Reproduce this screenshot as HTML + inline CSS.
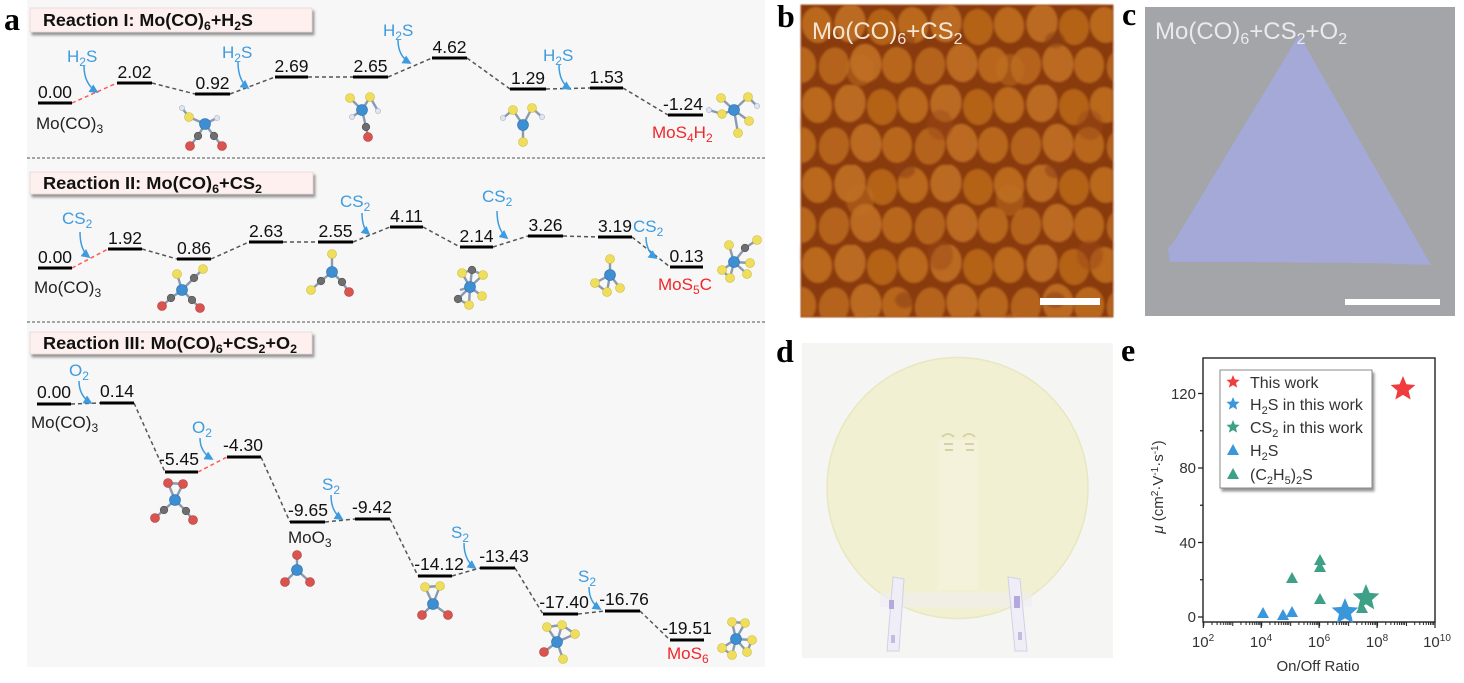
<!DOCTYPE html>
<html><head><meta charset="utf-8">
<style>
html,body{margin:0;padding:0;background:#fff;}
svg{display:block;}
text{font-family:"Liberation Sans",Arial,sans-serif;}
.lv{font-size:17.5px;fill:#111;text-anchor:middle;}
.bl{font-size:17px;fill:#3d9be0;}
.bk{font-size:17px;fill:#222;}
.rd{font-size:17px;fill:#f0262a;}
.bar{stroke:#000;stroke-width:3;}
.cn{stroke:#555;stroke-width:1.5;stroke-dasharray:4,3;fill:none;}
.cr{stroke:#ff5a5a;stroke-width:1.5;stroke-dasharray:4,3;fill:none;}
.ar{stroke:#3d9be0;stroke-width:1.5;fill:none;}
.mo{fill:#3d8fd1;stroke:#2a70b0;stroke-width:.6;}
.s{fill:#efdd5c;stroke:#cdb93c;stroke-width:.6;}
.o{fill:#d9534f;stroke:#b03a36;stroke-width:.6;}
.c{fill:#6e6e6e;stroke:#505050;stroke-width:.6;}
.h{fill:#e2e6f2;stroke:#a8b0c4;stroke-width:.6;}
.bd{stroke:#8a9ab0;stroke-width:2.4;}
.lbl{font-family:"Liberation Serif",serif;font-weight:bold;font-size:32px;fill:#000;}
.tk{font-size:15px;fill:#333;}
.lg{font-size:16px;fill:#333;}
</style></head><body>
<svg width="1464" height="683" viewBox="0 0 1464 683" xmlns="http://www.w3.org/2000/svg">
<defs>
 <marker id="ah" viewBox="0 0 10 10" refX="8" refY="5" markerUnits="userSpaceOnUse" markerWidth="9" markerHeight="9" orient="auto"><path d="M0,0 L10,5 L0,10 z" fill="#3d9be0"/></marker>
 <filter id="sh" x="-5%" y="-30%" width="115%" height="180%"><feDropShadow dx="2" dy="3" stdDeviation="1.3" flood-color="#8c8c8c" flood-opacity="0.9"/></filter>
 <path id="star" d="M0,-1 L0.2645,-0.3641 L0.9511,-0.309 L0.428,0.1391 L0.5878,0.809 L0,0.45 L-0.5878,0.809 L-0.428,0.1391 L-0.9511,-0.309 L-0.2645,-0.3641Z"/>
 <pattern id="grains" patternUnits="userSpaceOnUse" x="801" y="5" width="96" height="80">
  <rect width="96" height="80" fill="#8a3b0d"/>
  <ellipse cx="16" cy="20" rx="15" ry="18" transform="rotate(-10 16 20)" fill="#b9671f"/>
  <ellipse cx="49" cy="18" rx="15.5" ry="19" transform="rotate(6 49 18)" fill="#bb6a22"/>
  <ellipse cx="81" cy="22" rx="15" ry="18" transform="rotate(-5 81 22)" fill="#b46219"/>
  <ellipse cx="0" cy="60" rx="15" ry="18" fill="#b8661e"/>
  <ellipse cx="96" cy="60" rx="15" ry="18" fill="#b8661e"/>
  <ellipse cx="33" cy="61" rx="15" ry="18.5" transform="rotate(10 33 61)" fill="#b5641c"/>
  <ellipse cx="65" cy="58" rx="15.5" ry="19" transform="rotate(-8 65 58)" fill="#bc6b23"/>
 </pattern>
 <pattern id="grains2" patternUnits="userSpaceOnUse" x="830" y="30" width="150" height="130">
  <ellipse cx="30" cy="40" rx="14" ry="16" fill="#c07026" opacity="0.5"/>
  <ellipse cx="110" cy="95" rx="13" ry="15" fill="#9a4712" opacity="0.45"/>
  <ellipse cx="75" cy="10" rx="10" ry="8" fill="#8a3b0d" opacity="0.5"/>
 </pattern>
 <filter id="bl1"><feGaussianBlur stdDeviation="1.1"/></filter>
 <pattern id="xt" patternUnits="userSpaceOnUse" x="1203.3" y="622" width="28.96" height="6">
  <path d="M8.7,0v3M13.8,0v3M17.4,0v3M20.2,0v3M22.5,0v3M24.4,0v3M26.1,0v3M27.6,0v3M0.5,0v4" stroke="#222" stroke-width="1"/>
 </pattern>
</defs>

<!-- ================= PANEL A ================= -->
<rect x="27" y="0" width="738" height="667" fill="#f7f7f7"/>
<text x="4" y="30" class="lbl">a</text>
<line x1="27" y1="158" x2="765" y2="158" stroke="#8a8a8a" stroke-width="1.5" stroke-dasharray="3,2"/>
<line x1="27" y1="322" x2="765" y2="322" stroke="#8a8a8a" stroke-width="1.5" stroke-dasharray="3,2"/>

<rect x="30" y="8" width="282" height="24" fill="#fdf0ee" stroke="#e6d6d4" stroke-width="0.8" filter="url(#sh)"/>
<text x="43" y="26" font-weight="bold" font-size="17.5" fill="#111" textLength="210" lengthAdjust="spacingAndGlyphs">Reaction I: Mo(CO)<tspan dy="4" font-size="12">6</tspan><tspan dy="-4">+H</tspan><tspan dy="4" font-size="12">2</tspan><tspan dy="-4">S</tspan></text>
<rect x="30" y="172" width="283" height="22" fill="#fdf0ee" stroke="#e6d6d4" stroke-width="0.8" filter="url(#sh)"/>
<text x="43" y="189" font-weight="bold" font-size="17.5" fill="#111" textLength="219" lengthAdjust="spacingAndGlyphs">Reaction II: Mo(CO)<tspan dy="4" font-size="12">6</tspan><tspan dy="-4">+CS</tspan><tspan dy="4" font-size="12">2</tspan></text>
<rect x="30" y="332" width="282" height="22" fill="#fdf0ee" stroke="#e6d6d4" stroke-width="0.8" filter="url(#sh)"/>
<text x="43" y="349" font-weight="bold" font-size="17.5" fill="#111" textLength="254" lengthAdjust="spacingAndGlyphs">Reaction III: Mo(CO)<tspan dy="4" font-size="12">6</tspan><tspan dy="-4">+CS</tspan><tspan dy="4" font-size="12">2</tspan><tspan dy="-4">+O</tspan><tspan dy="4" font-size="12">2</tspan></text>

<!-- Reaction I -->
<g>
<line class="cr" x1="72" y1="103" x2="117" y2="83"/>
<polyline class="cn" points="152,83 195,94"/>
<polyline class="cn" points="230,94 275,77"/>
<polyline class="cn" points="308,77 353,77"/>
<polyline class="cn" points="388,77 432,58"/>
<polyline class="cn" points="467,58 510,89"/>
<polyline class="cn" points="546,89 590,88"/>
<polyline class="cn" points="623,88 668,115"/>
<line class="bar" x1="38" y1="103" x2="72" y2="103"/>
<line class="bar" x1="117" y1="83" x2="152" y2="83"/>
<line class="bar" x1="195" y1="94" x2="230" y2="94"/>
<line class="bar" x1="275" y1="77" x2="308" y2="77"/>
<line class="bar" x1="353" y1="77" x2="388" y2="77"/>
<line class="bar" x1="432" y1="58" x2="467" y2="58"/>
<line class="bar" x1="510" y1="89" x2="546" y2="89"/>
<line class="bar" x1="590" y1="88" x2="623" y2="88"/>
<line class="bar" x1="668" y1="115" x2="703" y2="115"/>
<text class="lv" x="55" y="98">0.00</text>
<text class="lv" x="134.5" y="78">2.02</text>
<text class="lv" x="212.5" y="89">0.92</text>
<text class="lv" x="291.5" y="72">2.69</text>
<text class="lv" x="370.5" y="72">2.65</text>
<text class="lv" x="449.5" y="53">4.62</text>
<text class="lv" x="528" y="84">1.29</text>
<text class="lv" x="606.5" y="83">1.53</text>
<text class="lv" x="683" y="110">-1.24</text>
<text class="bk" x="36" y="129">Mo(CO)<tspan dy="4" font-size="12">3</tspan></text>
<text class="rd" x="652" y="138">MoS<tspan dy="4" font-size="12">4</tspan><tspan dy="-4">H</tspan><tspan dy="4" font-size="12">2</tspan></text>
<text class="bl" x="67" y="62">H<tspan dy="4" font-size="12">2</tspan><tspan dy="-4">S</tspan></text>
<text class="bl" x="222" y="58">H<tspan dy="4" font-size="12">2</tspan><tspan dy="-4">S</tspan></text>
<text class="bl" x="383" y="36">H<tspan dy="4" font-size="12">2</tspan><tspan dy="-4">S</tspan></text>
<text class="bl" x="543" y="61">H<tspan dy="4" font-size="12">2</tspan><tspan dy="-4">S</tspan></text>
<path class="ar" d="M84,66 Q84,84 97,92" marker-end="url(#ah)"/>
<path class="ar" d="M238,62 Q238,80 248,88" marker-end="url(#ah)"/>
<path class="ar" d="M398,40 Q398,56 410,63" marker-end="url(#ah)"/>
<path class="ar" d="M559,65 Q559,82 570,89" marker-end="url(#ah)"/>
</g>

<g>
<path class="bd" d="M205,124L189,117M189,117L182,108M205,124L217,118M205,124L198,136M198,136L190,146M205,124L214,136M214,136L222,146"/>
<circle class="h" cx="182" cy="108" r="2.6"/><circle class="h" cx="217" cy="118" r="2.6"/>
<circle class="s" cx="189" cy="117" r="4.5"/><circle class="c" cx="198" cy="136" r="3.8"/><circle class="c" cx="214" cy="136" r="3.8"/>
<circle class="o" cx="190" cy="146" r="4.5"/><circle class="o" cx="222" cy="146" r="4.5"/>
<circle class="mo" cx="205" cy="124" r="5.5"/>

<path class="bd" d="M362,110L350,98M362,110L370,97M370,97L378,111M362,110L352,117M362,110L366,127M366,127L368,137"/>
<circle class="h" cx="378" cy="111" r="2.6"/><circle class="h" cx="352" cy="117" r="2.6"/>
<circle class="s" cx="350" cy="98" r="4.5"/><circle class="s" cx="370" cy="97" r="4.5"/>
<circle class="c" cx="366" cy="127" r="3.8"/><circle class="o" cx="368" cy="137" r="4.5"/>
<circle class="mo" cx="362" cy="110" r="5.5"/>

<path class="bd" d="M513,110L503,118M532,108L542,117M523,125L513,110M523,125L532,108M523,125L523,142"/>
<circle class="h" cx="503" cy="118" r="2.6"/><circle class="h" cx="542" cy="117" r="2.6"/>
<circle class="s" cx="513" cy="110" r="4.5"/><circle class="s" cx="532" cy="108" r="4.5"/><circle class="s" cx="523" cy="142" r="4.5"/>
<circle class="mo" cx="523" cy="125" r="5.5"/>

<path class="bd" d="M734,110L721,98M734,110L748,97M748,97L757,106M734,110L722,114M722,114L709,110M734,110L749,121M734,110L738,133"/>
<circle class="h" cx="709" cy="110" r="2.6"/><circle class="h" cx="757" cy="106" r="2.6"/>
<circle class="s" cx="721" cy="98" r="4.5"/><circle class="s" cx="748" cy="97" r="4.5"/><circle class="s" cx="722" cy="114" r="4.3"/><circle class="s" cx="749" cy="121" r="4.5"/><circle class="s" cx="738" cy="133" r="4.5"/>
<circle class="mo" cx="734" cy="110" r="5.5"/>
</g>

<!-- Reaction II -->
<g>
<line class="cr" x1="72" y1="268" x2="108" y2="249"/>
<polyline class="cn" points="142,249 177,259"/>
<polyline class="cn" points="211,259 249,242"/>
<polyline class="cn" points="283,242 318,242"/>
<polyline class="cn" points="353,242 390,227"/>
<polyline class="cn" points="423,227 460,247"/>
<polyline class="cn" points="493,247 528,236"/>
<polyline class="cn" points="563,236 598,237"/>
<polyline class="cn" points="632,237 670,267"/>
<line class="bar" x1="38" y1="268" x2="72" y2="268"/>
<line class="bar" x1="108" y1="249" x2="142" y2="249"/>
<line class="bar" x1="177" y1="259" x2="211" y2="259"/>
<line class="bar" x1="249" y1="242" x2="283" y2="242"/>
<line class="bar" x1="318" y1="242" x2="353" y2="242"/>
<line class="bar" x1="390" y1="227" x2="423" y2="227"/>
<line class="bar" x1="460" y1="247" x2="493" y2="247"/>
<line class="bar" x1="528" y1="236" x2="563" y2="236"/>
<line class="bar" x1="598" y1="237" x2="632" y2="237"/>
<line class="bar" x1="670" y1="267" x2="703" y2="267"/>
<text class="lv" x="55" y="263">0.00</text>
<text class="lv" x="125" y="244">1.92</text>
<text class="lv" x="194" y="254">0.86</text>
<text class="lv" x="266" y="237">2.63</text>
<text class="lv" x="335.5" y="237">2.55</text>
<text class="lv" x="406.5" y="222">4.11</text>
<text class="lv" x="476.5" y="242">2.14</text>
<text class="lv" x="545.5" y="231">3.26</text>
<text class="lv" x="615" y="232">3.19</text>
<text class="lv" x="686.5" y="262">0.13</text>
<text class="bk" x="34" y="293">Mo(CO)<tspan dy="4" font-size="12">3</tspan></text>
<text class="rd" x="658" y="290">MoS<tspan dy="4" font-size="12">5</tspan><tspan dy="-4">C</tspan></text>
<text class="bl" x="62" y="224">CS<tspan dy="4" font-size="12">2</tspan></text>
<text class="bl" x="340" y="207">CS<tspan dy="4" font-size="12">2</tspan></text>
<text class="bl" x="482" y="202">CS<tspan dy="4" font-size="12">2</tspan></text>
<text class="bl" x="633" y="232">CS<tspan dy="4" font-size="12">2</tspan></text>
<path class="ar" d="M80,232 Q80,250 89,257" marker-end="url(#ah)"/>
<path class="ar" d="M362,213 Q362,228 369,234" marker-end="url(#ah)"/>
<path class="ar" d="M497,211 Q497,230 507,238" marker-end="url(#ah)"/>
<path class="ar" d="M646,237 Q646,251 656,258" marker-end="url(#ah)"/>
</g>

<g>
<path class="bd" d="M182,290L177,274M182,290L194,278M194,278L203,269M182,290L171,298M171,298L162,306M182,290L192,300M192,300L200,308"/>
<circle class="s" cx="177" cy="274" r="4.5"/><circle class="c" cx="194" cy="278" r="3.8"/><circle class="s" cx="203" cy="269" r="4.5"/>
<circle class="c" cx="171" cy="298" r="3.8"/><circle class="o" cx="162" cy="306" r="4.5"/>
<circle class="c" cx="192" cy="300" r="3.8"/><circle class="o" cx="200" cy="308" r="4.5"/>
<circle class="mo" cx="182" cy="290" r="5.5"/>

<path class="bd" d="M332,272L332,254M332,272L321,281M321,281L311,290M332,272L342,282M342,282L349,292"/>
<circle class="s" cx="332" cy="254" r="4.5"/><circle class="c" cx="321" cy="281" r="3.8"/><circle class="s" cx="311" cy="290" r="4.5"/>
<circle class="c" cx="342" cy="282" r="3.8"/><circle class="o" cx="349" cy="292" r="4.5"/>
<circle class="mo" cx="332" cy="272" r="5.5"/>

<path class="bd" d="M470,287L472,270M472,270L462,273M472,270L483,275M470,287L462,273M470,287L483,275M470,287L482,296M470,287L458,299M458,299L469,305M470,287L469,305M470,287L460,290"/>
<circle class="s" cx="462" cy="273" r="4.5"/><circle class="s" cx="483" cy="275" r="4.5"/><circle class="c" cx="472" cy="270" r="3.8"/>
<circle class="s" cx="482" cy="296" r="4.5"/><circle class="s" cx="469" cy="305" r="4.5"/><circle class="c" cx="458" cy="299" r="3.8"/>
<circle class="mo" cx="470" cy="287" r="5.5"/>

<path class="bd" d="M610,275L610,259M610,275L595,283M610,275L607,292M610,275L620,288M595,283L607,292"/>
<circle class="s" cx="610" cy="259" r="4.5"/><circle class="s" cx="595" cy="283" r="4.5"/><circle class="s" cx="607" cy="292" r="4.5"/><circle class="s" cx="620" cy="288" r="4.5"/>
<circle class="mo" cx="610" cy="275" r="5.5"/>

<path class="bd" d="M734,262L729,245M734,262L745,248M745,248L757,240M734,262L750,263M734,262L722,270M734,262L747,274M734,262L730,278M722,270L730,278"/>
<circle class="s" cx="757" cy="240" r="4.5"/><circle class="c" cx="745" cy="248" r="3.8"/><circle class="s" cx="729" cy="245" r="4.5"/>
<circle class="s" cx="750" cy="263" r="4.5"/><circle class="s" cx="722" cy="270" r="4.5"/><circle class="s" cx="747" cy="274" r="4.5"/><circle class="s" cx="730" cy="278" r="4.5"/>
<circle class="mo" cx="734" cy="262" r="5.5"/>
</g>

<!-- Reaction III -->
<g>
<polyline class="cn" points="71,404 100,403"/>
<polyline class="cn" points="134,403 165,472"/>
<line class="cr" x1="198" y1="472" x2="227" y2="457"/>
<polyline class="cn" points="261,457 290,522"/>
<polyline class="cn" points="325,522 355,519"/>
<polyline class="cn" points="390,519 418,576"/>
<polyline class="cn" points="452,576 480,568"/>
<polyline class="cn" points="515,568 543,614"/>
<polyline class="cn" points="578,614 605,611"/>
<polyline class="cn" points="640,611 670,640"/>
<line class="bar" x1="37" y1="404" x2="71" y2="404"/>
<line class="bar" x1="100" y1="403" x2="134" y2="403"/>
<line class="bar" x1="165" y1="472" x2="198" y2="472"/>
<line class="bar" x1="227" y1="457" x2="261" y2="457"/>
<line class="bar" x1="290" y1="522" x2="325" y2="522"/>
<line class="bar" x1="355" y1="519" x2="390" y2="519"/>
<line class="bar" x1="418" y1="576" x2="452" y2="576"/>
<line class="bar" x1="480" y1="568" x2="515" y2="568"/>
<line class="bar" x1="543" y1="614" x2="578" y2="614"/>
<line class="bar" x1="605" y1="611" x2="640" y2="611"/>
<line class="bar" x1="670" y1="640" x2="704" y2="640"/>
<text class="lv" x="54" y="398">0.00</text>
<text class="lv" x="117" y="397">0.14</text>
<text class="lv" x="179" y="465">-5.45</text>
<text class="lv" x="243" y="451">-4.30</text>
<text class="lv" x="308" y="516">-9.65</text>
<text class="lv" x="372" y="513">-9.42</text>
<text class="lv" x="439" y="570">-14.12</text>
<text class="lv" x="504" y="562">-13.43</text>
<text class="lv" x="564" y="608">-17.40</text>
<text class="lv" x="624" y="605">-16.76</text>
<text class="lv" x="687" y="634">-19.51</text>
<text class="bk" x="31" y="428">Mo(CO)<tspan dy="4" font-size="12">3</tspan></text>
<text class="bk" x="288" y="543">MoO<tspan dy="4" font-size="12">3</tspan></text>
<text class="rd" x="667" y="659">MoS<tspan dy="4" font-size="12">6</tspan></text>
<text class="bl" x="69" y="376">O<tspan dy="4" font-size="12">2</tspan></text>
<text class="bl" x="192" y="433">O<tspan dy="4" font-size="12">2</tspan></text>
<text class="bl" x="322" y="490">S<tspan dy="4" font-size="12">2</tspan></text>
<text class="bl" x="451" y="538">S<tspan dy="4" font-size="12">2</tspan></text>
<text class="bl" x="578" y="582">S<tspan dy="4" font-size="12">2</tspan></text>
<path class="ar" d="M79,381 Q79,396 91,403" marker-end="url(#ah)"/>
<path class="ar" d="M200,438 Q200,452 212,459" marker-end="url(#ah)"/>
<path class="ar" d="M331,495 Q331,512 342,519" marker-end="url(#ah)"/>
<path class="ar" d="M464,543 Q464,560 475,568" marker-end="url(#ah)"/>
<path class="ar" d="M589,587 Q589,602 600,609" marker-end="url(#ah)"/>
</g>

<g>
<path class="bd" d="M175,500L168,483M175,500L183,484M168,483L183,484M175,500L164,510M164,510L155,518M175,500L186,511M186,511L193,520"/>
<circle class="o" cx="168" cy="483" r="4.5"/><circle class="o" cx="183" cy="484" r="4.5"/>
<circle class="c" cx="164" cy="510" r="3.8"/><circle class="o" cx="155" cy="518" r="4.5"/>
<circle class="c" cx="186" cy="511" r="3.8"/><circle class="o" cx="193" cy="520" r="4.5"/>
<circle class="mo" cx="175" cy="500" r="5.5"/>

<path class="bd" d="M297,570L297,555M297,570L285,582M297,570L310,582"/>
<circle class="o" cx="297" cy="555" r="4.5"/><circle class="o" cx="285" cy="582" r="4.5"/><circle class="o" cx="310" cy="582" r="4.5"/>
<circle class="mo" cx="297" cy="570" r="5.5"/>

<path class="bd" d="M433,604L425,587M433,604L440,586M425,587L440,586M433,604L422,615M433,604L448,615"/>
<circle class="s" cx="425" cy="587" r="4.5"/><circle class="s" cx="440" cy="586" r="4.5"/>
<circle class="o" cx="422" cy="615" r="4.5"/><circle class="o" cx="448" cy="615" r="4.5"/>
<circle class="mo" cx="433" cy="604" r="5.5"/>

<path class="bd" d="M557,642L547,627M557,642L562,625M562,625L575,634M557,642L575,634M557,642L544,652M557,642L563,659M547,627L562,625"/>
<circle class="s" cx="547" cy="627" r="4.5"/><circle class="s" cx="562" cy="625" r="4.5"/><circle class="s" cx="575" cy="634" r="4.5"/>
<circle class="o" cx="544" cy="652" r="4.5"/><circle class="s" cx="563" cy="659" r="4.5"/>
<circle class="mo" cx="557" cy="642" r="5.5"/>

<path class="bd" d="M736,639L732,622M736,639L745,623M732,622L745,623M736,639L752,640M736,639L722,648M736,639L747,652M736,639L732,655M722,648L732,655M752,640L747,652"/>
<circle class="s" cx="732" cy="622" r="4.5"/><circle class="s" cx="745" cy="623" r="4.5"/><circle class="s" cx="752" cy="640" r="4.5"/>
<circle class="s" cx="722" cy="648" r="4.5"/><circle class="s" cx="747" cy="652" r="4.5"/><circle class="s" cx="732" cy="655" r="4.5"/>
<circle class="mo" cx="736" cy="639" r="5.5"/>
</g>

<!-- ================= PANEL B ================= -->
<text x="777" y="27" class="lbl">b</text>
<rect x="801" y="5" width="312" height="312" fill="#8a3b0d"/>
<rect x="801" y="5" width="312" height="312" fill="url(#grains)" filter="url(#bl1)"/>
<rect x="801" y="5" width="312" height="312" fill="url(#grains2)" filter="url(#bl1)"/>
<rect x="801" y="5" width="312" height="312" fill="none" stroke="#b87a55" stroke-width="1"/>
<text x="812" y="39" font-size="24" fill="#f5e6d4">Mo(CO)<tspan dy="5" font-size="16">6</tspan><tspan dy="-5">+CS</tspan><tspan dy="5" font-size="16">2</tspan></text>
<rect x="1040" y="298" width="60" height="7" fill="#fff"/>

<!-- ================= PANEL C ================= -->
<text x="1122" y="25" class="lbl">c</text>
<rect x="1145" y="7" width="310" height="309" fill="#a3a5a8"/>
<polygon points="1299,35 1431,265 1370,263 1240,262 1170,262 1168,248 1175,240" fill="#a5a9d7"/>
<text x="1155" y="39" font-size="24" fill="#e9eaf0">Mo(CO)<tspan dy="5" font-size="16">6</tspan><tspan dy="-5">+CS</tspan><tspan dy="5" font-size="16">2</tspan><tspan dy="-5">+O</tspan><tspan dy="5" font-size="16">2</tspan></text>
<rect x="1345" y="299" width="95" height="6" fill="#fff"/>

<!-- ================= PANEL D ================= -->
<text x="776" y="362" class="lbl">d</text>
<rect x="802" y="343" width="311" height="315" fill="#f5f5f3"/>
<circle cx="957.5" cy="488" r="130.5" fill="#f2f0d2" stroke="#e9e6c0" stroke-width="1.5"/>
<rect x="938" y="440" width="40" height="150" fill="#f4f2dc" opacity="0.8"/>
<path d="M942,437 q6,-6 12,0 M963,437 q6,-6 12,0 M944,444 h9 M965,444 h9 M945,450 h8 M966,450 h8" stroke="#d6d2a8" stroke-width="2" fill="none"/>
<polygon points="880,593 1032,593 1032,607 880,607" fill="#efeff3" opacity="0.6"/>
<polygon points="893,577 904,579 899,651 887,651" fill="#efedf5" stroke="#d4cfe8" stroke-width="1"/>
<polygon points="1008,577 1020,579 1027,651 1015,651" fill="#efedf5" stroke="#d4cfe8" stroke-width="1"/>
<rect x="889" y="600" width="5" height="9" fill="#b5a8dd"/>
<rect x="1014" y="596" width="6" height="12" fill="#b5a8dd"/>
<rect x="891" y="635" width="4" height="8" fill="#c4bae2"/>
<rect x="1018" y="632" width="4" height="8" fill="#c4bae2"/>

<!-- ================= PANEL E ================= -->
<text x="1121" y="361" class="lbl">e</text>
<rect x="1203" y="358" width="232" height="264" fill="none" stroke="#222" stroke-width="1.4"/>
<rect x="1203.3" y="622" width="232" height="6" fill="url(#xt)"/>
<path d="M1203.3,622v6M1261.2,622v6M1319.1,622v6M1377.1,622v6M1435,622v6" stroke="#222" stroke-width="1.2"/>
<path d="M1203,617h-5M1203,542.5h-5M1203,468h-5M1203,393.5h-5M1203,579.75h-3M1203,505.25h-3M1203,430.75h-3" stroke="#222" stroke-width="1.2"/>
<text class="tk" x="1196" y="622" text-anchor="end">0</text>
<text class="tk" x="1196" y="548" text-anchor="end">40</text>
<text class="tk" x="1196" y="473" text-anchor="end">80</text>
<text class="tk" x="1196" y="399" text-anchor="end">120</text>
<text class="tk" x="1203" y="647" text-anchor="middle">10<tspan dy="-6" font-size="10">2</tspan></text>
<text class="tk" x="1261" y="647" text-anchor="middle">10<tspan dy="-6" font-size="10">4</tspan></text>
<text class="tk" x="1319" y="647" text-anchor="middle">10<tspan dy="-6" font-size="10">6</tspan></text>
<text class="tk" x="1377" y="647" text-anchor="middle">10<tspan dy="-6" font-size="10">8</tspan></text>
<text class="tk" x="1437" y="647" text-anchor="middle">10<tspan dy="-6" font-size="10">10</tspan></text>
<text class="tk" x="1318" y="671" text-anchor="middle">On/Off Ratio</text>
<text class="tk" transform="translate(1163,487) rotate(-90)" text-anchor="middle"><tspan font-style="italic">μ</tspan> (cm<tspan dy="-5" font-size="10">2</tspan><tspan dy="5">·V</tspan><tspan dy="-5" font-size="10">-1</tspan><tspan dy="5">·s</tspan><tspan dy="-5" font-size="10">-1</tspan><tspan dy="5">)</tspan></text>

<rect x="1220" y="370" width="152" height="118" fill="#fff" stroke="#888" stroke-width="1" filter="url(#sh)"/>
<use href="#star" transform="translate(1233,382) scale(7)" fill="#f03c3c"/>
<use href="#star" transform="translate(1233,404) scale(7)" fill="#3a97dc"/>
<use href="#star" transform="translate(1233,427) scale(7)" fill="#3fa088"/>
<polygon points="1233,444 1239,455 1227,455" fill="#3a97dc"/>
<polygon points="1233,468 1239,479 1227,479" fill="#3fa088"/>
<text class="lg" x="1250" y="388">This work</text>
<text class="lg" x="1250" y="410">H<tspan dy="4" font-size="11">2</tspan><tspan dy="-4">S in this work</tspan></text>
<text class="lg" x="1250" y="433">CS<tspan dy="4" font-size="11">2</tspan><tspan dy="-4"> in this work</tspan></text>
<text class="lg" x="1250" y="456">H<tspan dy="4" font-size="11">2</tspan><tspan dy="-4">S</tspan></text>
<text class="lg" x="1250" y="480">(C<tspan dy="4" font-size="11">2</tspan><tspan dy="-4">H</tspan><tspan dy="4" font-size="11">5</tspan><tspan dy="-4">)</tspan><tspan dy="4" font-size="11">2</tspan><tspan dy="-4">S</tspan></text>

<g fill="#3fa088">
<polygon points="1292,572 1298,583 1286,583"/>
<polygon points="1320,554 1326,565 1314,565"/>
<polygon points="1320,561 1326,572 1314,572"/>
<polygon points="1320,593 1326,604 1314,604"/>
<polygon points="1362,602 1368,613 1356,613"/>
</g>
<g fill="#3a97dc">
<polygon points="1263,607 1269,618 1257,618"/>
<polygon points="1283,609 1289,620 1277,620"/>
<polygon points="1292,606 1298,617 1286,617"/>
</g>
<use href="#star" transform="translate(1366,598) scale(14)" fill="#3fa088"/>
<use href="#star" transform="translate(1345,612) scale(14)" fill="#3a97dc"/>
<use href="#star" transform="translate(1403,389) scale(13)" fill="#f03c3c"/>
</svg>
</body></html>
